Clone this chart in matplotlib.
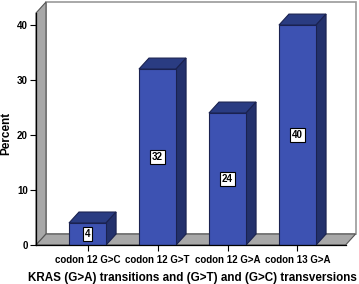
import matplotlib.pyplot as plt
from matplotlib.patches import Polygon

# KRAS mutation percentages
categories = ["codon 12 G>C", "codon 12 G>T", "codon 12 G>A", "codon 13 G>A"]
percent = [4, 32, 24, 40]
yticks = [0, 10, 20, 30, 40]

plt.rcParams["font.family"] = ["Liberation Sans", "DejaVu Sans"]

front = "#3d52b2"
top = "#2a3c82"
side = "#23316c"
wall = "#a8a8a8"

fig = plt.figure(figsize=(3.59, 2.84), dpi=100)
ax = fig.add_axes([0.1003, 0.1373, 0.8941, 0.8557])

x = list(range(len(categories)))
width = 0.53
dx, dy = 0.143, 2.0          # depth offset in data units
xl, xr = -0.736, 3.83
ytop = 44.2

ax.set_xlim(xl, xr + 0.02)
ax.set_ylim(0, ytop)

# back wall
ax.add_patch(Polygon([(xl + dx, dy), (xl + dx, ytop), (xr, ytop), (xr, dy)],
                     closed=True, facecolor="white", edgecolor="#9a9a9a", lw=1.2,
                     zorder=0.5, clip_on=False))
# left wall
ax.add_patch(Polygon([(xl, 0), (xl, ytop - dy), (xl + dx, ytop), (xl + dx, dy)],
                     closed=True, facecolor=wall, edgecolor="#555555", lw=0.8,
                     zorder=0.6, clip_on=False))
# floor
ax.add_patch(Polygon([(xl, 0), (xl + dx, dy), (xr, dy), (xr - dx, 0)],
                     closed=True, facecolor=wall, edgecolor="#555555", lw=0.8,
                     zorder=0.6, clip_on=False))

# bars: front face plus top and side faces
ax.bar(x, percent, width=width, color=front, edgecolor="#1a2250", lw=0.8, zorder=3)
for xi, v in zip(x, percent):
    x0, x1 = xi - width / 2, xi + width / 2
    ax.add_patch(Polygon([(x0, v), (x0 + dx, v + dy), (x1 + dx, v + dy), (x1, v)],
                         closed=True, facecolor=top, edgecolor="#1a2250", lw=0.8, zorder=2))
    ax.add_patch(Polygon([(x1, 0), (x1, v), (x1 + dx, v + dy), (x1 + dx, dy)],
                         closed=True, facecolor=side, edgecolor="#1a2250", lw=0.8, zorder=2))
    ax.text(xi, v / 2, str(v), ha="center", va="center", fontsize=7, fontweight="bold",
            zorder=5, bbox=dict(boxstyle="square,pad=0.2", fc="white", ec="black", lw=0.8))

# axis lines
ax.plot([xl, xl], [0, ytop - dy], color="black", lw=0.9, zorder=4, clip_on=False)
ax.plot([xl, xr - dx], [0, 0], color="black", lw=0.9, zorder=4, clip_on=False)

for s in ax.spines.values():
    s.set_visible(False)

ax.set_yticks(yticks)
ax.set_yticklabels([str(t) for t in yticks], fontsize=7, fontweight="bold")
ax.set_xticks(x)
ax.set_xticklabels(categories, fontsize=7, fontweight="bold")
ax.tick_params(axis="both", length=4, width=0.8, pad=2)
ax.tick_params(axis="x", pad=3)

ax.set_ylabel("Percent", fontsize=8.5, fontweight="bold")
ax.yaxis.set_label_coords(-0.074, 0.46)
ax.set_xlabel("KRAS (G>A) transitions and (G>T) and (G>C) transversions",
              fontsize=8.4, fontweight="bold")
ax.xaxis.set_label_coords(0.486, -0.11)

fig.savefig("out.png", dpi=100)
